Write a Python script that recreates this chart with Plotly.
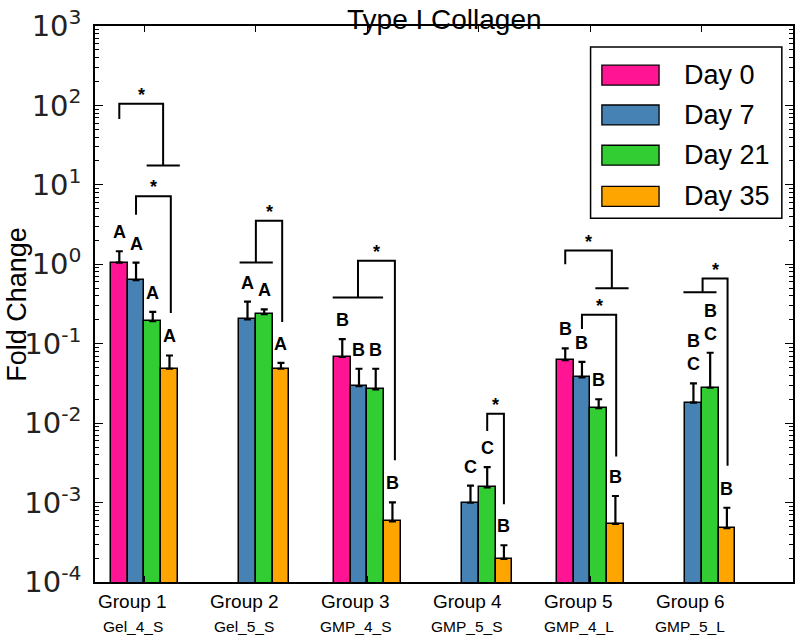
import numpy as np
import plotly.graph_objects as go

# ---------------- data ----------------
groups = ["Group 1", "Group 2", "Group 3", "Group 4", "Group 5", "Group 6"]
samples = ["Gel_4_S", "Gel_5_S", "GMP_4_S", "GMP_5_S", "GMP_4_L", "GMP_5_L"]
series_names = ["Day 0", "Day 7", "Day 21", "Day 35"]

day0 = [1.05, None, 0.068, None, 0.062, None]
day7 = [0.63, 0.203, 0.0293, 0.000995, 0.0376, 0.0181]
day21 = [0.193, 0.235, 0.0266, 0.00155, 0.01545, 0.0279]
day35 = [0.0484, 0.0484, 0.000578, 0.000195, 0.00054, 0.000475]

day0_err = [0.41, None, 0.046, None, 0.0255, None]
day7_err = [0.42, 0.136, 0.0191, 0.000635, 0.0214, 0.0136]
day21_err = [0.059, 0.035, 0.0218, 0.00125, 0.00455, 0.0491]
day35_err = [0.0227, 0.0089, 0.00043, 0.000095, 0.00067, 0.000385]

day0_letters = ["A", "", "B", "", "B", ""]
day7_letters = ["A", "A", "B", "C", "B", "B<br>C"]
day21_letters = ["A", "A", "B", "C", "B", "B<br>C"]
day35_letters = ["A", "A", "B", "B", "B", "B"]

# significance brackets: group, left x-offset, left leg bottom, top, right x-offset,
# right leg bottom, optional T-bar on left / right side (x-offset span)
brackets = [
    dict(g=0, xl=-0.225, yl=67.6, top=105, xr=0.168, yr=17.5, tl=None, tr=(0.02, 0.318)),
    dict(g=0, xl=-0.075, yl=4.19, top=7.2, xr=0.237, yr=0.244, tl=None, tr=None),
    dict(g=1, xl=0.0, yl=1.05, top=3.54, xr=0.236, yr=0.187, tl=(-0.146, 0.152), tr=None),
    dict(g=2, xl=-0.084, yl=0.381, top=1.11, xr=0.247, yr=0.0034, tl=(-0.311, 0.141), tr=None),
    dict(g=3, xl=0.075, yl=0.00796, top=0.0131, xr=0.225, yr=0.00095, tl=None, tr=None),
    dict(g=4, xl=-0.225, yl=1.0, top=1.49, xr=0.193, yr=0.5, tl=None, tr=(0.045, 0.343)),
    dict(g=4, xl=-0.075, yl=0.153, top=0.232, xr=0.232, yr=0.0038, tl=None, tr=None),
    dict(g=5, xl=0.007, yl=0.446, top=0.662, xr=0.231, yr=0.0029, tl=(-0.165, 0.132), tr=None),
]

ytick_vals = [1e-4, 1e-3, 1e-2, 1e-1, 1e0, 1e1, 1e2, 1e3]
ytick_text = ["10<sup>-4</sup>", "10<sup>-3</sup>", "10<sup>-2</sup>", "10<sup>-1</sup>",
              "10<sup>0</sup>", "10<sup>1</sup>", "10<sup>2</sup>", "10<sup>3</sup>"]

colors = ["#FF1493", "#4682B4", "#32CD32", "#FFA500"]

# ---------------- figure ----------------
values = [day0, day7, day21, day35]
errs = [day0_err, day7_err, day21_err, day35_err]
letters = [day0_letters, day7_letters, day21_letters, day35_letters]

bar_w = 0.15
offsets = [(-1.5 + k) * bar_w for k in range(4)]
gx = np.arange(len(groups))
label_shift = -0.105   # group labels sit a little left of the bar-group centre

fig = go.Figure()
for k in range(4):
    fig.add_trace(go.Bar(
        x=gx + offsets[k], y=values[k], width=bar_w, name=series_names[k],
        marker=dict(color=colors[k], line=dict(color="black", width=1.5)),
        error_y=dict(type="data", symmetric=False, array=errs[k],
                     arrayminus=[0 if e is not None else None for e in errs[k]],
                     color="black", thickness=2.2, width=3.5),
        showlegend=False,
    ))

# brackets
bx, by = [], []
for b in brackets:
    g = b["g"]
    bx += [g + b["xl"], g + b["xl"], g + b["xr"], g + b["xr"], None]
    by += [b["yl"], b["top"], b["top"], b["yr"], None]
    if b["tl"]:
        bx += [g + b["tl"][0], g + b["tl"][1], None]
        by += [b["yl"], b["yl"], None]
    if b["tr"]:
        bx += [g + b["tr"][0], g + b["tr"][1], None]
        by += [b["yr"], b["yr"], None]
fig.add_trace(go.Scatter(x=bx, y=by, mode="lines", line=dict(color="black", width=2),
                         showlegend=False, hoverinfo="skip"))

annotations = []
# letters
for k in range(4):
    for i in range(len(groups)):
        txt = letters[k][i]
        if not txt or values[k][i] is None:
            continue
        cap = values[k][i] + errs[k][i]
        lines = txt.split("<br>")[::-1]
        for j, ln in enumerate(lines):
            annotations.append(dict(
                x=gx[i] + offsets[k], y=np.log10(cap), xref="x", yref="y",
                text=f"<b>{ln}</b>", showarrow=False, yanchor="middle", yshift=19 + 23 * j,
                font=dict(family="Liberation Sans", size=18, color="black"),
            ))
# asterisks
for b in brackets:
    annotations.append(dict(
        x=b["g"] + (b["xl"] + b["xr"]) / 2, y=np.log10(b["top"]), xref="x", yref="y",
        text="<b>*</b>", showarrow=False, yanchor="middle", yshift=9,
        font=dict(family="Liberation Sans", size=18, color="black"),
    ))

# group labels and sample names under the axis
for i in range(len(groups)):
    annotations.append(dict(x=gx[i] + label_shift, y=0, xref="x", yref="paper", yanchor="middle",
                            text=groups[i], showarrow=False, yshift=-19,
                            font=dict(family="Liberation Sans", size=19, color="black")))
    annotations.append(dict(x=gx[i] + label_shift, y=0, xref="x", yref="paper", yanchor="middle",
                            text=samples[i], showarrow=False, yshift=-44,
                            font=dict(family="Liberation Sans", size=15.5, color="black")))

# title (box kept inside the page) and axis title
annotations.append(dict(x=0.5, y=1, xref="paper", yref="paper", yanchor="top",
                        text="Type I Collagen", showarrow=False, yshift=23, borderpad=0,
                        font=dict(family="Liberation Sans", size=28, color="black")))
annotations.append(dict(x=-0.112, y=0.5, xref="paper", yref="paper", textangle=-90,
                        text="Fold Change", showarrow=False, xanchor="center",
                        font=dict(family="Liberation Sans", size=27, color="black")))

# custom legend (paper coordinates, plot area 24..582 px)
shapes = [dict(type="rect", xref="paper", yref="paper", x0=0.71, x1=0.984, y0=0.6541, y1=0.9624,
               line=dict(color="black", width=1.5), fillcolor="white", layer="above")]
row_y = [0.9116, 0.840, 0.7676, 0.6935]
for k in range(4):
    shapes.append(dict(type="rect", xref="paper", yref="paper", x0=0.7262, x1=0.8081,
                       y0=row_y[k] - 0.0179, y1=row_y[k] + 0.0179,
                       line=dict(color="black", width=1.3), fillcolor=colors[k], layer="above"))
    annotations.append(dict(x=0.8404, y=row_y[k], xref="paper", yref="paper",
                            xanchor="left", yanchor="middle", text=series_names[k],
                            showarrow=False,
                            font=dict(family="Liberation Sans", size=27, color="black")))

fig.update_layout(
    width=800, height=638, margin=dict(l=95, r=5, t=24, b=56),
    plot_bgcolor="white", paper_bgcolor="white",
    bargap=0, barmode="overlay",
    annotations=annotations, shapes=shapes,
    xaxis=dict(range=[-0.443, 5.818], tickvals=list(gx), showticklabels=False,
               ticks="inside", ticklen=6, tickcolor="black", mirror="ticks",
               showline=True, linecolor="black", linewidth=1.5, showgrid=False,
               zeroline=False),
    yaxis=dict(type="log", range=[-4, 3], tickvals=ytick_vals, ticktext=ytick_text,
               ticks="inside", ticklen=8, tickcolor="black", mirror="ticks",
               showline=True, linecolor="black", linewidth=1.5, showgrid=False,
               zeroline=False, ticklabelstandoff=6,
               tickfont=dict(family="DejaVu Sans", size=29, color="#222"),
               minor=dict(ticks="inside", ticklen=4, tickcolor="black", showgrid=False,
                          tickvals=[m * 10.0 ** e for e in range(-4, 3) for m in range(2, 10)])),
)

fig.write_html("out.html", config={"displayModeBar": False},
               post_script="document.body.style.margin='0px';document.body.style.overflow='hidden';")
